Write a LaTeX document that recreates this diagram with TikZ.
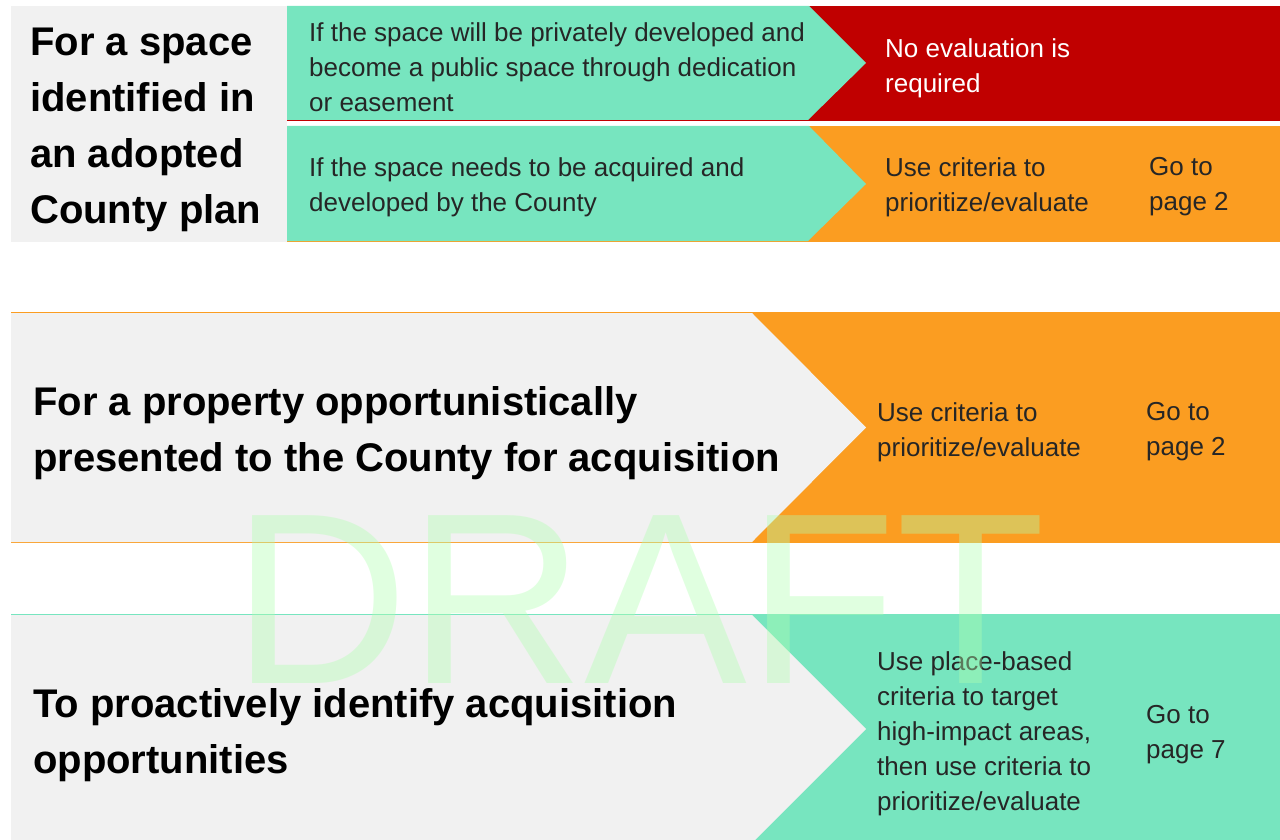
\documentclass[tikz,border=0pt]{standalone}
\usepackage{fontspec}
\setmainfont{Liberation Sans}
\usetikzlibrary{calc}

\definecolor{mint}{RGB}{119,229,191}
\definecolor{darkred}{RGB}{192,0,0}
\definecolor{amber}{RGB}{251,157,33}
\definecolor{paper}{RGB}{241,241,241}
\definecolor{ink}{RGB}{38,38,38}
\definecolor{stamp}{RGB}{176,255,176}

\begin{document}
\begin{tikzpicture}[x=1pt,y=-1pt,
	heading/.style={anchor=west, inner sep=0, align=left, text=black,
		font=\fontsize{40}{56}\selectfont\bfseries},
	body/.style={anchor=west, inner sep=0, align=left, text=ink,
		font=\fontsize{26}{35}\selectfont}]

% parameters %{{{2

	\def\right{1280}
	\def\tipx{866}
	\def\cutx{809}
	\def\bandx{752}

	\useasboundingbox (0,0) rectangle (\right,840);

% coordinates %{{{2

	\coordinate (R1t) at (287,6);
	\coordinate (R1b) at (287,121);
	\coordinate (R2t) at (287,126);
	\coordinate (R2b) at (287,242);
	\coordinate (Mt) at (11,312);
	\coordinate (Mb) at (11,543);
	\coordinate (Bt) at (11,614);
	\coordinate (Bb) at (11,843);

% first block: plan %{{{2

	\fill[paper] (11,6) rectangle (R2b);

	\fill[darkred] (R1t) rectangle (\right,121);
	\fill[mint] (R1t) -- (\cutx,6) -- (\tipx,63) -- (\cutx-1,120) -- (287,120) -- cycle;

	\fill[amber] (R2t) rectangle (\right,242);
	\fill[mint] (R2t) -- (\cutx,126) -- (\tipx,184) -- (\cutx-1,241) -- (287,241) -- cycle;

% second block: opportunity %{{{2

	\fill[amber] (Mt) rectangle (\right,543);
	\fill[paper] (11,313) -- (\bandx,313) -- (\tipx,427.5) -- (\bandx,542) -- (11,542) -- cycle;

% third block: proactive %{{{2

	\fill[mint] (Bt) rectangle (\right,843);
	\fill[paper] (11,615) -- (\bandx,615) -- (\tipx,729) -- (\bandx,843) -- (11,843) -- cycle;

% texts %{{{2

	\node[heading] (plan) at (30,130) {For a space\\identified in\\an adopted\\County plan};
	\node[body] (private) at (309,67) {If the space will be privately developed and\\become a public space through dedication\\or easement};
	\node[body, text=white] (noeval) at (885,68) {No evaluation is\\required};
	\node[body] (acquire) at (309,187) {If the space needs to be acquired and\\developed by the County};
	\node[body] (crit1) at (885,187) {Use criteria to\\prioritize/evaluate};
	\node[body] (goto1) at (1149,187) {Go to\\page 2};

	\node[heading] (offer) at (33,433) {For a property opportunistically\\presented to the County for acquisition};
	\node[body] (crit2) at (877,432) {Use criteria to\\prioritize/evaluate};
	\node[body] (goto2) at (1146,432) {Go to\\page 2};

	\node[heading] (seek) at (33,735) {To proactively identify acquisition\\opportunities};
	\node[body] (crit3) at (877,734) {Use place-based\\criteria to target\\high-impact areas,\\then use criteria to\\prioritize/evaluate};
	\node[body] (goto3) at (1146,735) {Go to\\page 7};

% watermark %{{{2

	\node[anchor=base west, inner sep=0, text=stamp, text opacity=0.39,
		font=\fontsize{244}{244}\selectfont] (draft) at (232,683) {DRAFT};

% closing %{{{2

\end{tikzpicture}
\end{document}
